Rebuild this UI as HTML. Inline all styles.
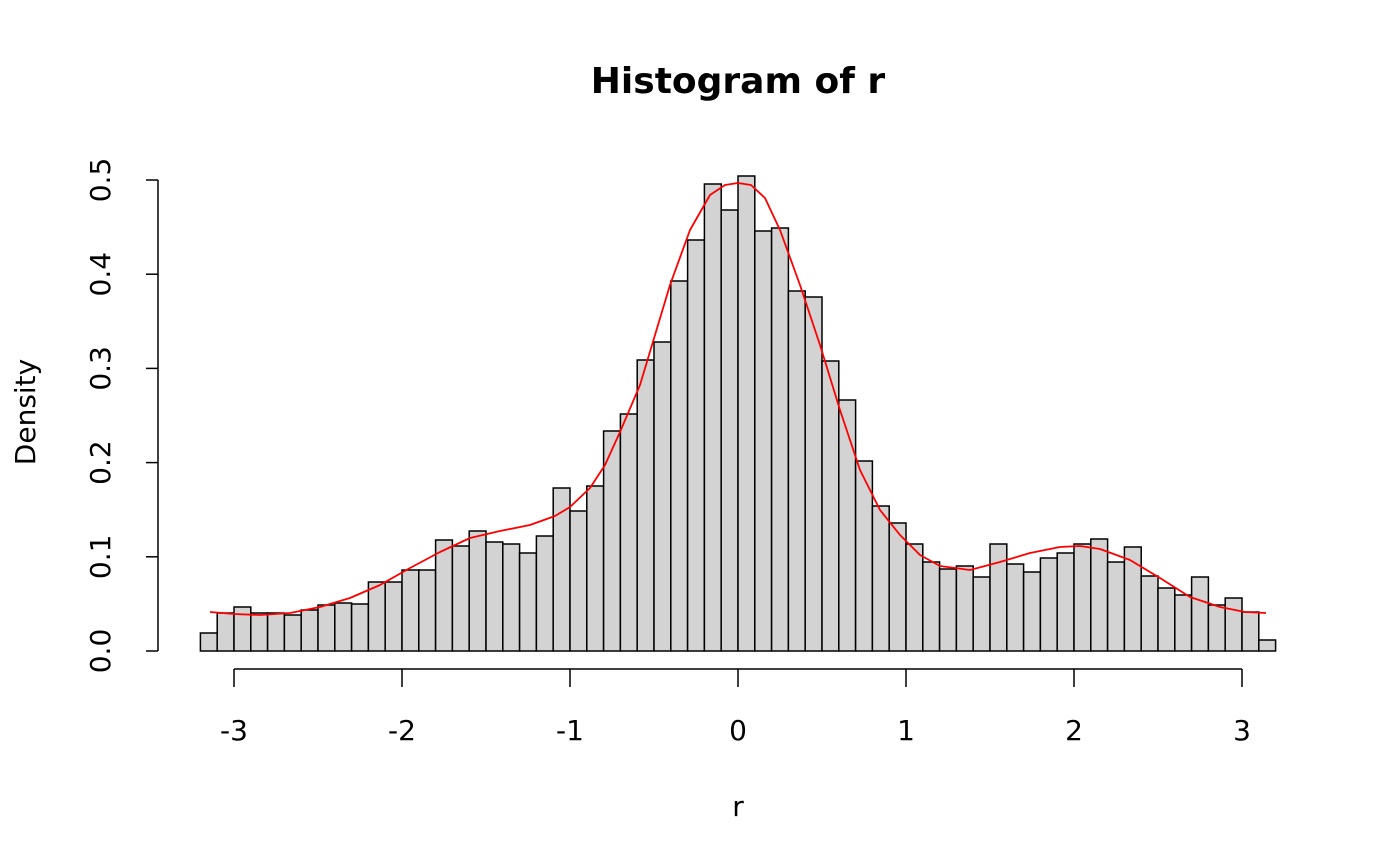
<!DOCTYPE html>
<html><head><meta charset="utf-8"><style>html,body{margin:0;padding:0;background:#fff}svg{display:block}</style></head>
<body>
<svg width="1400" height="866" viewBox="0 0 1400 866" xmlns="http://www.w3.org/2000/svg" font-family="'DejaVu Sans','Liberation Sans',sans-serif">
<rect width="1400" height="866" fill="#fff"/>
<text x="738" y="93" text-anchor="middle" font-size="36" font-weight="bold">Histogram of r</text>
<text x="738" y="816" text-anchor="middle" font-size="28">r</text>
<text transform="translate(35,412) rotate(-90)" text-anchor="middle" font-size="28">Density</text>
<g fill="#d3d3d3" stroke="#000" stroke-width="1.5">
<rect x="200.4" y="633" width="16.8" height="18"/>
<rect x="217.2" y="613" width="16.8" height="38"/>
<rect x="234" y="607" width="16.8" height="44"/>
<rect x="250.8" y="613" width="16.8" height="38"/>
<rect x="267.6" y="613" width="16.8" height="38"/>
<rect x="284.4" y="615" width="16.8" height="36"/>
<rect x="301.2" y="610" width="16.8" height="41"/>
<rect x="318" y="605" width="16.8" height="46"/>
<rect x="334.8" y="603" width="16.8" height="48"/>
<rect x="351.6" y="604" width="16.8" height="47"/>
<rect x="368.4" y="582" width="16.8" height="69"/>
<rect x="385.2" y="582" width="16.8" height="69"/>
<rect x="402" y="570" width="16.8" height="81"/>
<rect x="418.8" y="570" width="16.8" height="81"/>
<rect x="435.6" y="540" width="16.8" height="111"/>
<rect x="452.4" y="546" width="16.8" height="105"/>
<rect x="469.2" y="531" width="16.8" height="120"/>
<rect x="486" y="542" width="16.8" height="109"/>
<rect x="502.8" y="544" width="16.8" height="107"/>
<rect x="519.6" y="553" width="16.8" height="98"/>
<rect x="536.4" y="536" width="16.8" height="115"/>
<rect x="553.2" y="488" width="16.8" height="163"/>
<rect x="570" y="511" width="16.8" height="140"/>
<rect x="586.8" y="486" width="16.8" height="165"/>
<rect x="603.6" y="431" width="16.8" height="220"/>
<rect x="620.4" y="414" width="16.8" height="237"/>
<rect x="637.2" y="360" width="16.8" height="291"/>
<rect x="654" y="342" width="16.8" height="309"/>
<rect x="670.8" y="281" width="16.8" height="370"/>
<rect x="687.6" y="240" width="16.8" height="411"/>
<rect x="704.4" y="184" width="16.8" height="467"/>
<rect x="721.2" y="210" width="16.8" height="441"/>
<rect x="738" y="176" width="16.8" height="475"/>
<rect x="754.8" y="231" width="16.8" height="420"/>
<rect x="771.6" y="228" width="16.8" height="423"/>
<rect x="788.4" y="291" width="16.8" height="360"/>
<rect x="805.2" y="297" width="16.8" height="354"/>
<rect x="822" y="361" width="16.8" height="290"/>
<rect x="838.8" y="400" width="16.8" height="251"/>
<rect x="855.6" y="461" width="16.8" height="190"/>
<rect x="872.4" y="506" width="16.8" height="145"/>
<rect x="889.2" y="523" width="16.8" height="128"/>
<rect x="906" y="544" width="16.8" height="107"/>
<rect x="922.8" y="562" width="16.8" height="89"/>
<rect x="939.6" y="569" width="16.8" height="82"/>
<rect x="956.4" y="566" width="16.8" height="85"/>
<rect x="973.2" y="577" width="16.8" height="74"/>
<rect x="990" y="544" width="16.8" height="107"/>
<rect x="1006.8" y="564" width="16.8" height="87"/>
<rect x="1023.6" y="572" width="16.8" height="79"/>
<rect x="1040.4" y="558" width="16.8" height="93"/>
<rect x="1057.2" y="553" width="16.8" height="98"/>
<rect x="1074" y="544" width="16.8" height="107"/>
<rect x="1090.8" y="539" width="16.8" height="112"/>
<rect x="1107.6" y="562" width="16.8" height="89"/>
<rect x="1124.4" y="547" width="16.8" height="104"/>
<rect x="1141.2" y="576" width="16.8" height="75"/>
<rect x="1158" y="588" width="16.8" height="63"/>
<rect x="1174.8" y="595" width="16.8" height="56"/>
<rect x="1191.6" y="577" width="16.8" height="74"/>
<rect x="1208.4" y="605" width="16.8" height="46"/>
<rect x="1225.2" y="598" width="16.8" height="53"/>
<rect x="1242" y="612" width="16.8" height="39"/>
<rect x="1258.8" y="640" width="16.8" height="11"/>
</g>
<polyline fill="none" stroke="#ff0000" stroke-width="1.8" stroke-linejoin="round" points="210,612 234,614 260,615 290,613 320,607 350,598 380,585 410,568 440,552 470,538 500,531 530,525 555,516 570,507 590,488 605,465 620,432 640,385 655,335 670,285 690,230 710,195 725,185 738,183 751,185 765,198 780,230 800,285 820,345 840,410 860,470 880,510 900,535 920,555 940,566 970,570 1000,562 1030,553 1060,547 1080,546 1100,549 1130,560 1160,578 1190,597 1220,607 1245,612 1266,613"/>
<g stroke="#000" stroke-width="1.5" fill="none">
<line x1="158" y1="180" x2="158" y2="651"/>
<line x1="146" y1="651" x2="158" y2="651"/><line x1="146" y1="556.8" x2="158" y2="556.8"/><line x1="146" y1="462.6" x2="158" y2="462.6"/><line x1="146" y1="368.4" x2="158" y2="368.4"/><line x1="146" y1="274.2" x2="158" y2="274.2"/><line x1="146" y1="180" x2="158" y2="180"/>
<line x1="234" y1="669" x2="1242" y2="669"/>
<line x1="234" y1="669" x2="234" y2="687"/><line x1="402" y1="669" x2="402" y2="687"/><line x1="570" y1="669" x2="570" y2="687"/><line x1="738" y1="669" x2="738" y2="687"/><line x1="906" y1="669" x2="906" y2="687"/><line x1="1074" y1="669" x2="1074" y2="687"/><line x1="1242" y1="669" x2="1242" y2="687"/>
</g>
<g font-size="28" text-anchor="middle">
<text x="234" y="740">-3</text><text x="402" y="740">-2</text><text x="570" y="740">-1</text><text x="738" y="740">0</text><text x="906" y="740">1</text><text x="1074" y="740">2</text><text x="1242" y="740">3</text>
<text transform="translate(110,651) rotate(-90)">0.0</text>
<text transform="translate(110,556.8) rotate(-90)">0.1</text>
<text transform="translate(110,462.6) rotate(-90)">0.2</text>
<text transform="translate(110,368.4) rotate(-90)">0.3</text>
<text transform="translate(110,274.2) rotate(-90)">0.4</text>
<text transform="translate(110,180) rotate(-90)">0.5</text>
</g>
</svg>
</body></html>
